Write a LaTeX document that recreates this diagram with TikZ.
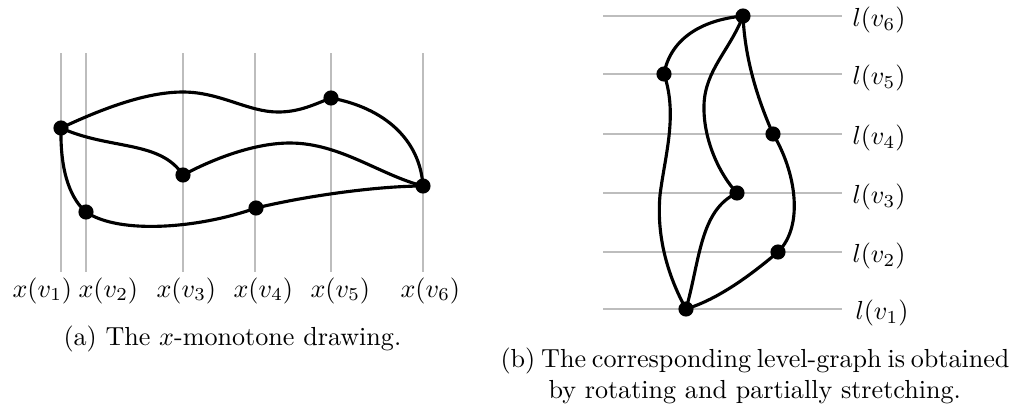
\documentclass[tikz,border=0pt]{standalone}
\begin{document}
\begin{tikzpicture}[x=0.383pt,y=-0.383pt,
  guide/.style={draw=black!26,line width=0.45pt},
  edge/.style={draw=black,line width=1.2pt},
  vtx/.style={circle,fill=black,inner sep=0pt,minimum size=5.8pt},
  xlab/.style={anchor=base west,inner sep=0pt},
  llab/.style={anchor=west,inner sep=0pt},
  captxt/.style={anchor=base west,inner sep=0pt}]
\useasboundingbox (0,0) rectangle (1016,406);
% ---------- (a) ----------
\coordinate (a1) at (61,128);
\coordinate (a2) at (86,212);
\coordinate (a3) at (183,175);
\coordinate (a4) at (256,208);
\coordinate (a5) at (331,98);
\coordinate (a6) at (423,186);
\foreach \i/\xx in {1/61,2/86,3/183,4/255,5/331,6/423}{
  \coordinate (gt\i) at (\xx,53);
  \coordinate (gb\i) at (\xx,272);
  \draw[guide] (gt\i) -- (gb\i);
}
\draw[edge] (a1) .. controls (110,105) and (150,92) .. (183,92)
  .. controls (220,92) and (248,112) .. (278,112)
  .. controls (300,112) and (315,104) .. (a5);
\draw[edge] (a5) .. controls (385,108) and (420,140) .. (a6);
\draw[edge] (a1) .. controls (110,150) and (160,140) .. (a3);
\draw[edge] (a3) .. controls (215,158) and (255,143) .. (290,143)
  .. controls (340,143) and (380,175) .. (a6);
\draw[edge] (a1) .. controls (60,175) and (72,200) .. (a2);
\draw[edge] (a2) .. controls (120,235) and (200,228) .. (a4);
\draw[edge] (a4) .. controls (310,195) and (380,186) .. (a6);
\foreach \i in {1,...,6}{ \node[vtx] (na\i) at (a\i) {}; }
\node[xlab] (xl1) at (12,297) {$x(v_1)$};
\node[xlab] (xl2) at (78,297) {$x(v_2)$};
\node[xlab] (xl3) at (156,297) {$x(v_3)$};
\node[xlab] (xl4) at (233,297) {$x(v_4)$};
\node[xlab] (xl5) at (310,297) {$x(v_5)$};
\node[xlab] (xl6) at (400,297) {$x(v_6)$};
\node[captxt] (capa) at (63,345) {(a) The $x$-monotone drawing.};
% ---------- (b) ----------
\coordinate (b6) at (743,16);
\coordinate (b5) at (664,74);
\coordinate (b4) at (773,134);
\coordinate (b3) at (737,193);
\coordinate (b2) at (778,252);
\coordinate (b1) at (686,309);
\foreach \i/\yy in {6/16,5/74,4/134,3/193,2/252,1/309}{
  \coordinate (hl\i) at (603,\yy);
  \coordinate (hr\i) at (842,\yy);
  \draw[guide] (hl\i) -- (hr\i);
}
\draw[edge] (b6) .. controls (700,20) and (670,40) .. (b5);
\draw[edge] (b5) .. controls (678,115) and (665,155) .. (660,195)
  .. controls (656,240) and (670,280) .. (b1);
\draw[edge] (b6) .. controls (730,50) and (705,70) .. (704,105)
  .. controls (703,140) and (720,175) .. (b3);
\draw[edge] (b3) .. controls (700,210) and (700,260) .. (b1);
\draw[edge] (b6) .. controls (745,60) and (758,100) .. (b4);
\draw[edge] (b4) .. controls (795,170) and (805,225) .. (b2);
\draw[edge] (b2) .. controls (745,280) and (715,300) .. (b1);
\foreach \i in {1,...,6}{ \node[vtx] (nb\i) at (b\i) {}; }
\node[llab] (ll6) at (852,20) {$l(v_6)$};
\node[llab] (ll5) at (852,78) {$l(v_5)$};
\node[llab] (ll4) at (852,138) {$l(v_4)$};
\node[llab] (ll3) at (852,197) {$l(v_3)$};
\node[llab] (ll2) at (852,256) {$l(v_2)$};
\node[llab] (ll1) at (855,313) {$l(v_1)$};
\node[captxt] (capb1) at (500,367) {\hbox to 194.4pt{(b) The corresponding level-graph is obtained}};
\node[captxt] (capb2) at (548,398) {by rotating and partially stretching.};
\end{tikzpicture}
\end{document}
